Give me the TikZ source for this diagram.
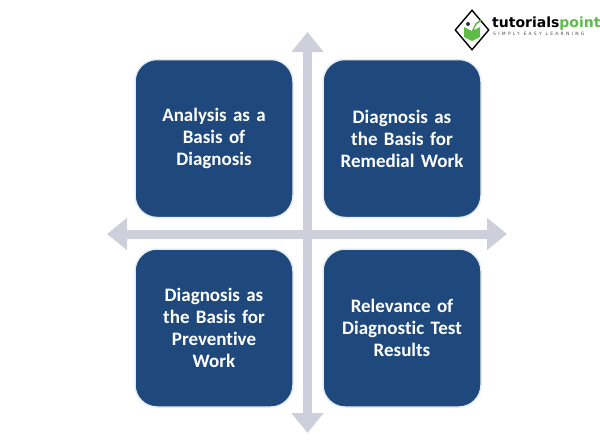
\documentclass[tikz,border=0pt]{standalone}
\usepackage{fontspec}
\setmainfont[Ligatures=NoCommon]{Carlito}
\newfontfamily\logofont{DejaVu Sans}
\usetikzlibrary{arrows.meta,shapes.geometric}
\definecolor{boxblue}{HTML}{1F497D}
\definecolor{axisgrey}{HTML}{CDD0DA}
\definecolor{rimblue}{HTML}{E3ECF3}
\definecolor{logogreen}{HTML}{5DBB46}

\begin{document}
\begin{tikzpicture}[x=1pt,y=-1pt,
   quad/.style={draw=rimblue,line width=1.5pt,fill=boxblue,rounded corners=22pt,
       minimum width=158pt,minimum height=158pt,text width=145pt,align=center,
       text=white,font=\bfseries\fontsize{19}{22}\selectfont},
   axis/.style={draw=axisgrey,line width=9pt,
       {Triangle[width=31pt,length=20pt]}-{Triangle[width=31pt,length=20pt]}}]

\useasboundingbox (0,0) rectangle (600,445);

% axes
\coordinate (top) at (307.5,32);
\coordinate (bottom) at (307.5,433);
\coordinate (left) at (107,234);
\coordinate (right) at (507,234);
\draw[axis] (bottom) -- (top);
\draw[axis] (left) -- (right);

% quadrants
\node[quad] (analysis) at (214,138.5) {Analysis as a\\Basis of\\Diagnosis};
\node[quad] (remedial) at (402,138.5) {Diagnosis as\\the Basis for\\Remedial Work};
\node[quad] (preventive) at (214,328) {Diagnosis as\\the Basis for\\Preventive\\Work};
\node[quad] (relevance) at (402,328) {Relevance of\\Diagnostic Test\\Results};

% logo
\node[draw,line width=1.4pt,diamond,minimum width=34pt,minimum height=40pt,inner sep=0pt] (badge) at (472,30) {};
\fill[logogreen] (464,27) -- (472,31) -- (480,27) -- (480,37) -- (472,41) -- (464,37) -- cycle;
\fill[black!80] (468,24) circle (2pt);
\draw[logogreen,line width=1.5pt] (472,32) -- (476,24) -- (481,20);
\node[anchor=west,inner sep=0pt,font=\logofont\bfseries\fontsize{14}{14}\selectfont] (brand) at (492,24)
   {tutorials\textcolor{logogreen}{point}};
\node[anchor=north west,inner sep=0pt,font=\logofont\fontsize{4.5}{4.5}\selectfont\addfontfeatures{LetterSpace=50},text=black!70] (motto) at (493,32)
   {SIMPLY EASY LEARNING};

\end{tikzpicture}
\end{document}
